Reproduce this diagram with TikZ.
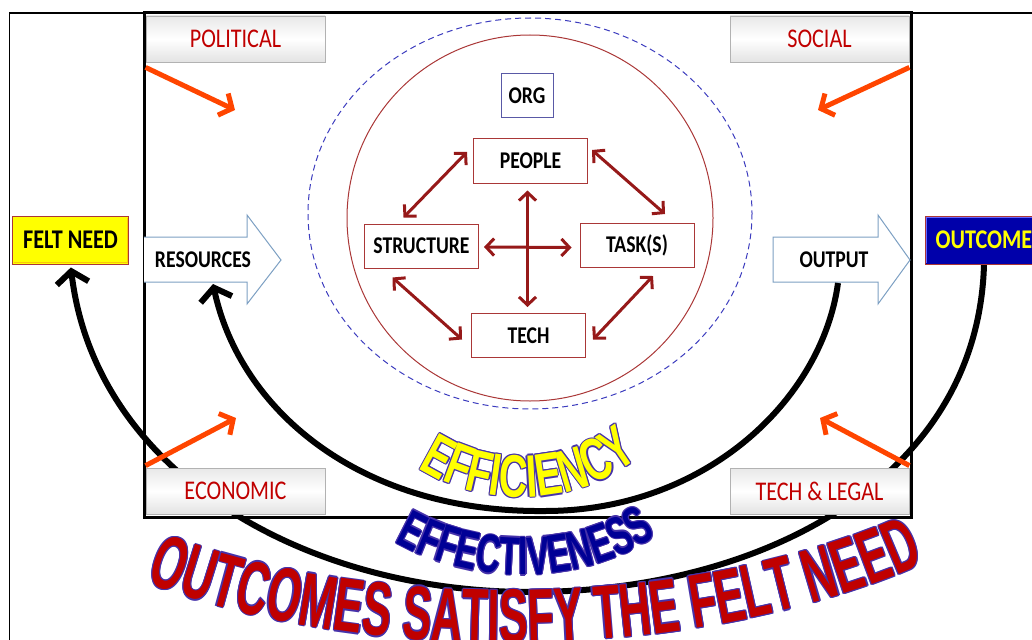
\documentclass[tikz,border=0pt]{standalone}
\usepackage{fontspec}
\usetikzlibrary{arrows.meta,decorations.text}

\newfontfamily\labelfont{Carlito}[FakeStretch=0.82]
\newfontfamily\artwide{Liberation Sans}[FakeStretch=0.66]
\newfontfamily\artmid{Liberation Sans}[FakeStretch=0.62]
\newfontfamily\artnarrow{Liberation Sans}[FakeStretch=0.57]

\newcommand\efffont{\artwide\bfseries\fontsize{60}{66}\selectfont}
\newcommand\effecfont{\artmid\bfseries\fontsize{54}{60}\selectfont}
\newcommand\mottofont{\artnarrow\bfseries\fontsize{76}{84}\selectfont}

\definecolor{labred}{RGB}{192,0,0}
\definecolor{linkred}{RGB}{150,25,25}
\definecolor{pushred}{RGB}{255,69,0}
\definecolor{ringred}{RGB}{170,55,55}
\definecolor{dashblue}{RGB}{60,60,190}
\definecolor{arrowblue}{RGB}{125,160,195}
\definecolor{outcomeblue}{RGB}{0,0,170}
\definecolor{artred}{RGB}{192,0,0}
\definecolor{artline}{RGB}{70,50,170}
\definecolor{artnavy}{RGB}{0,0,150}
\definecolor{artyellow}{RGB}{255,255,0}

% curved word-art: #1 font, #2 fill colour, #3 outline colour, #4 text, #5 path
\newcommand\wordart[5]{%
  \foreach \ang in {0,45,...,315}{%
    \path[decorate,shift={(\ang:1.2pt)},
      decoration={text along path,text align=center,text={|#1\color{#3}|#4}}] #5;}%
  \path[decorate,
    decoration={text along path,text align=center,text={|#1\color{#2}|#4}}] #5;}

\begin{document}
\begin{tikzpicture}[x=1pt,y=-1pt,
  forcebox/.style={draw=gray!60,line width=0.8pt,top color=gray!18,bottom color=gray!22,
    middle color=white,minimum width=179pt,minimum height=46pt,inner sep=0pt,
    font=\labelfont\fontsize{27}{30}\selectfont,text=labred},
  corebox/.style={draw=ringred,line width=1pt,fill=white,minimum width=114pt,
    minimum height=44pt,inner sep=0pt,font=\labelfont\bfseries\fontsize{24}{26}\selectfont},
  flowtext/.style={inner sep=0pt,font=\labelfont\bfseries\fontsize{24}{26}\selectfont},
  flowarrow/.style={draw=arrowblue,line width=1pt,fill=white},
  link/.style={linkred,line width=3pt,
    {Straight Barb[length=8pt,width=17pt]}-{Straight Barb[length=8pt,width=17pt]}},
  push/.style={pushred,line width=5pt,-{Straight Barb[length=10pt,width=24pt]}},
  loop/.style={black,line width=6pt,-{Straight Barb[length=12pt,width=32pt]}},
  endbox/.style={draw=ringred,line width=1pt,minimum width=116pt,minimum height=48pt,
    inner sep=0pt,font=\labelfont\bfseries\fontsize{27}{30}\selectfont}
]
\useasboundingbox (0,0) rectangle (1032,639);
\clip (0,0) rectangle (1032,639);

% outer frame
\draw[line width=1.3pt] (9.5,650) -- (9.5,13) -- (1040,13);

% environment rings
\draw[dashblue,line width=1pt,dash pattern=on 6pt off 4pt] (530,213.5) ellipse [x radius=222,y radius=195.5];
\draw[ringred,line width=1pt] (530,218) circle [radius=183];

% system boundary
\draw[line width=3pt] (144,13) rectangle (911,517);

% input / output block arrows
\draw[flowarrow] (144,237) -- (247,237) -- (247,215) -- (281,260) -- (247,304) -- (247,282) -- (144,282);
\node[flowtext] (res) at (203,260) {RESOURCES};
\draw[flowarrow] (773,237) -- (878,237) -- (878,215) -- (910,260) -- (878,304) -- (878,282) -- (773,282) -- cycle;
\node[flowtext] (out) at (834,260) {OUTPUT};

% organisation core
\node[draw=gray!70!blue,line width=1pt,fill=white,minimum width=52pt,minimum height=44pt,
  inner sep=0pt,font=\labelfont\bfseries\fontsize{24}{26}\selectfont] (org) at (527,96) {ORG};
\node[corebox] (people) at (530.5,161) {PEOPLE};
\node[corebox] (structure) at (421.5,246) {STRUCTURE};
\node[corebox] (task) at (637,245.5) {TASK(S)};
\node[corebox] (tech) at (528.5,335.5) {TECH};

\draw[link] ([shift={(-6,-9)}]people.west) -- ([shift={(-18,-6)}]structure.north);
\draw[link] ([shift={(4,-11)}]people.east) -- ([shift={(28,-9)}]task.north);
\draw[link] ([shift={(-29,9)}]structure.south) -- ([shift={(-9,4)}]tech.west);
\draw[link] ([shift={(16,8)}]task.south) -- ([shift={(7,4)}]tech.east);
\draw[link] ([shift={(-3,7)}]people.south) -- ([shift={(-1,-6)}]tech.north);
\draw[link] ([shift={(5,1)}]structure.east) -- ([shift={(-8,2)}]task.west);

% feedback loops
\coordinate (outbot) at (838,283);
\coordinate (resbot) at (213,284);
\node[endbox,fill=artyellow] (need) at (70.5,240) {FELT NEED};
\node[endbox,fill=outcomeblue,text=artyellow,minimum width=118pt] (outcome) at (984,240) {OUTCOME};

\draw[loop] (outbot) .. controls (822,400) and (705,511) .. (545,511)
  .. controls (360,513) and (240,410) .. (resbot);
\draw[loop,shorten >=3pt] (outcome.south) .. controls (978,480) and (760,592) .. (530,592)
  .. controls (300,592) and (95,470) .. (need.south);

% end boxes drawn over the loop ends
\node[endbox,fill=artyellow] at (need) {FELT NEED};
\node[endbox,fill=outcomeblue,text=artyellow,minimum width=118pt] at (outcome) {OUTCOME};
\draw[yellow!60!orange,line width=1pt] ([shift={(2,-2)}]need.south west) -- ([shift={(-2,-2)}]need.south east) -- ([shift={(-2,2)}]need.north east);
\draw[blue!60!white,line width=1pt] ([shift={(2,-2)}]outcome.south west) -- ([shift={(2,2)}]outcome.north west) -- ([shift={(-2,2)}]outcome.north east);

% environmental forces
\node[forcebox] (political) at (235.5,39) {POLITICAL};
\node[forcebox] (social) at (819.5,39) {SOCIAL};
\node[forcebox] (economic) at (235.5,491) {ECONOMIC};
\node[forcebox] (legal) at (819.5,491) {TECH \& LEGAL};

\coordinate (polend) at (235,110);
\coordinate (socend) at (818,110);
\coordinate (ecoend) at (236,418);
\coordinate (legend) at (820,418);
\draw[push] ([shift={(0,5)}]political.south west) -- (polend);
\draw[push] ([shift={(0,5)}]social.south east) -- (socend);
\draw[push] ([shift={(0,-2)}]economic.north west) -- (ecoend);
\draw[push] ([shift={(0,-2)}]legal.north east) -- (legend);

% curved captions
\wordart{\efffont}{artyellow}{artline}{EFFICIENCY}
  {(398,452) .. controls (465,514) and (590,514) .. (658,440)}
\wordart{\effecfont}{artnavy}{artline}{EFFECTIVENESS}
  {(380,533) .. controls (465,590) and (590,590) .. (670,526)}
\wordart{\mottofont}{artred}{artline}{OUTCOMES SATISFY THE FELT NEED}
  {(130,576) .. controls (350,668) and (705,668) .. (940,556)}
\end{tikzpicture}
\end{document}
